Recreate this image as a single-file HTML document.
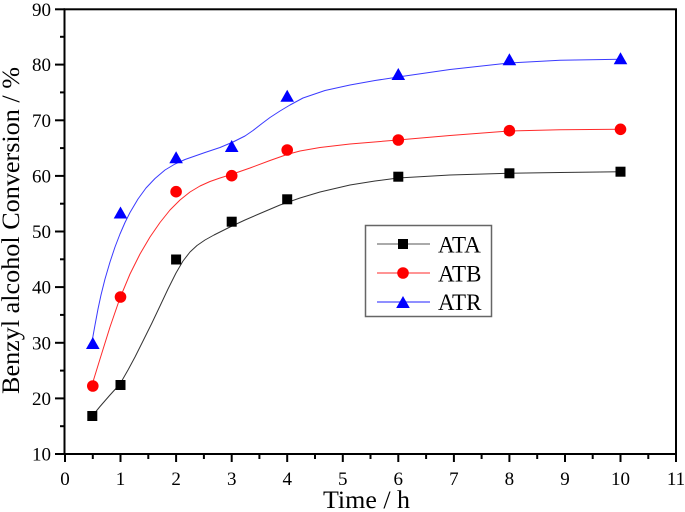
<!DOCTYPE html>
<html>
<head>
<meta charset="utf-8">
<style>
html,body{margin:0;padding:0;background:#fff;}
svg{display:block;}
svg text{font-family:"Liberation Serif","Times New Roman",serif;fill:#000;}
</style>
</head>
<body>
<svg width="685" height="512" viewBox="0 0 685 512" xmlns="http://www.w3.org/2000/svg" font-family="Liberation Serif, Times New Roman, serif">
<rect x="0" y="0" width="685" height="512" fill="#fff"/>

<!-- curves -->
<polyline fill="none" stroke="#333" stroke-width="1" stroke-linejoin="round"
points="92.3,416 100,406.5 110,395 120,384 128,370 135,357 143,341 151.7,323.5 160,306 168,289 176,273 183,261 190,252 197,245.5 205,240 214,235 223,230.5 231,226.5 245,220 260,213.5 280,205 300,198 320,192 350,185 375,181 398,178 450,175 509,173.3 560,172.5 620,171.7"/>
<polyline fill="none" stroke="#ff2a2a" stroke-width="1" stroke-linejoin="round"
points="92.3,384 100,359 110,327 120,298 130,274 140,254 150,237 160,222.5 170,210 180,200 190,192 200,186 210,181.5 220,178 231.3,174.5 250,168 270,160.5 287,154.5 300,151 320,147.5 350,144 398,140 450,135.5 509,131 560,129.8 620,129.3"/>
<polyline fill="none" stroke="#3a3aff" stroke-width="1" stroke-linejoin="round"
points="92.3,340 95,325 98,309 101,295 105,279 110,262 115,247 120,234 125,222.5 130,212.5 138,199 146,188 155,178.5 165,170 175,164 185,159.5 195,156 205,152.5 220,147.5 233,142 245,136 253,130.5 262,123.5 270,117.5 280,111 290,105 303,98 325,90.5 350,85 375,80.5 398,77 450,69.5 509,63 560,60.3 620,59.3"/>

<!-- ATA markers -->
<g fill="#000">
<rect x="87.3" y="411" width="10" height="10"/>
<rect x="115.5" y="380" width="10" height="10"/>
<rect x="171.1" y="254.5" width="10" height="10"/>
<rect x="226.7" y="216.7" width="10" height="10"/>
<rect x="282.2" y="194.3" width="10" height="10"/>
<rect x="393.3" y="171.7" width="10" height="10"/>
<rect x="504.4" y="168.3" width="10" height="10"/>
<rect x="615.5" y="166.7" width="10" height="10"/>
</g>
<!-- ATB markers -->
<g fill="#ff0000">
<circle cx="92.8" cy="386" r="5.8"/>
<circle cx="120.5" cy="297" r="5.8"/>
<circle cx="176.1" cy="191.7" r="5.8"/>
<circle cx="231.7" cy="175.7" r="5.8"/>
<circle cx="287.2" cy="150" r="5.8"/>
<circle cx="398.3" cy="140" r="5.8"/>
<circle cx="509.4" cy="130.7" r="5.8"/>
<circle cx="620.5" cy="129.3" r="5.8"/>
</g>
<!-- ATR markers -->
<g fill="#0000ff">
<polygon points="92.8,337 86,349 99.6,349"/>
<polygon points="120.5,206.5 113.7,218.5 127.3,218.5"/>
<polygon points="176.1,151.3 169.3,163.3 182.9,163.3"/>
<polygon points="231.7,140 224.9,152 238.5,152"/>
<polygon points="287.2,89.7 280.4,101.7 294,101.7"/>
<polygon points="398.3,68 391.5,80 405.1,80"/>
<polygon points="509.4,53.3 502.6,65.3 516.2,65.3"/>
<polygon points="620.5,52.3 613.7,64.3 627.3,64.3"/>
</g>

<!-- frame -->
<rect x="64.5" y="9.3" width="611.5" height="444.7" fill="none" stroke="#000" stroke-width="2"/>

<!-- x ticks -->
<g stroke="#000" stroke-width="2">
<line x1="65" y1="454" x2="65" y2="462"/>
<line x1="120.5" y1="454" x2="120.5" y2="462"/>
<line x1="176.1" y1="454" x2="176.1" y2="462"/>
<line x1="231.7" y1="454" x2="231.7" y2="462"/>
<line x1="287.2" y1="454" x2="287.2" y2="462"/>
<line x1="342.8" y1="454" x2="342.8" y2="462"/>
<line x1="398.3" y1="454" x2="398.3" y2="462"/>
<line x1="453.9" y1="454" x2="453.9" y2="462"/>
<line x1="509.4" y1="454" x2="509.4" y2="462"/>
<line x1="565" y1="454" x2="565" y2="462"/>
<line x1="620.5" y1="454" x2="620.5" y2="462"/>
<line x1="676" y1="454" x2="676" y2="462"/>
<line x1="92.8" y1="454" x2="92.8" y2="459"/>
<line x1="148.3" y1="454" x2="148.3" y2="459"/>
<line x1="203.9" y1="454" x2="203.9" y2="459"/>
<line x1="259.4" y1="454" x2="259.4" y2="459"/>
<line x1="315" y1="454" x2="315" y2="459"/>
<line x1="370.5" y1="454" x2="370.5" y2="459"/>
<line x1="426.1" y1="454" x2="426.1" y2="459"/>
<line x1="481.6" y1="454" x2="481.6" y2="459"/>
<line x1="537.2" y1="454" x2="537.2" y2="459"/>
<line x1="592.7" y1="454" x2="592.7" y2="459"/>
<line x1="648.3" y1="454" x2="648.3" y2="459"/>
</g>
<!-- y ticks -->
<g stroke="#000" stroke-width="2">
<line x1="55" y1="454" x2="65" y2="454"/>
<line x1="55" y1="398.4" x2="65" y2="398.4"/>
<line x1="55" y1="342.8" x2="65" y2="342.8"/>
<line x1="55" y1="287.1" x2="65" y2="287.1"/>
<line x1="55" y1="231.5" x2="65" y2="231.5"/>
<line x1="55" y1="175.9" x2="65" y2="175.9"/>
<line x1="55" y1="120.3" x2="65" y2="120.3"/>
<line x1="55" y1="64.6" x2="65" y2="64.6"/>
<line x1="55" y1="9.3" x2="65" y2="9.3"/>
<line x1="60" y1="426.2" x2="65" y2="426.2"/>
<line x1="60" y1="370.6" x2="65" y2="370.6"/>
<line x1="60" y1="314.9" x2="65" y2="314.9"/>
<line x1="60" y1="259.3" x2="65" y2="259.3"/>
<line x1="60" y1="203.7" x2="65" y2="203.7"/>
<line x1="60" y1="148.1" x2="65" y2="148.1"/>
<line x1="60" y1="92.4" x2="65" y2="92.4"/>
<line x1="60" y1="36.8" x2="65" y2="36.8"/>
</g>

<!-- x labels -->
<g font-size="19" text-anchor="middle" font-family="Liberation Serif, serif">
<text x="65" y="485">0</text>
<text x="120.5" y="485">1</text>
<text x="176.1" y="485">2</text>
<text x="231.7" y="485">3</text>
<text x="287.2" y="485">4</text>
<text x="342.8" y="485">5</text>
<text x="398.3" y="485">6</text>
<text x="453.9" y="485">7</text>
<text x="509.4" y="485">8</text>
<text x="565" y="485">9</text>
<text x="620.5" y="485">10</text>
<text x="676" y="485">11</text>
</g>
<!-- y labels -->
<g font-size="19" text-anchor="end" font-family="Liberation Serif, serif">
<text x="51" y="460.6">10</text>
<text x="51" y="405">20</text>
<text x="51" y="349.4">30</text>
<text x="51" y="293.7">40</text>
<text x="51" y="238.1">50</text>
<text x="51" y="182.5">60</text>
<text x="51" y="126.9">70</text>
<text x="51" y="71.2">80</text>
<text x="51" y="15.9">90</text>
</g>

<!-- axis titles -->
<text x="366.5" y="508" font-size="25" font-family="Liberation Serif, serif" text-anchor="middle" textLength="87" lengthAdjust="spacingAndGlyphs">Time / h</text>
<text transform="translate(19,230.5) rotate(-90)" font-size="25" font-family="Liberation Serif, serif" text-anchor="middle" textLength="327" lengthAdjust="spacingAndGlyphs">Benzyl alcohol Conversion / %</text>

<!-- legend -->
<rect x="365.5" y="225.5" width="126" height="91" fill="#fff" stroke="#666" stroke-width="1.5"/>
<line x1="377" y1="244" x2="430" y2="244" stroke="#555" stroke-width="1"/>
<rect x="398" y="239" width="10" height="10" fill="#000"/>
<line x1="377" y1="273" x2="430" y2="273" stroke="#ff2a2a" stroke-width="1"/>
<circle cx="403" cy="273" r="5.8" fill="#ff0000"/>
<line x1="377" y1="302" x2="430" y2="302" stroke="#6a6aff" stroke-width="1.5"/>
<polygon points="403,296 396.2,308 409.8,308" fill="#0000ff"/>
<g font-size="23" font-family="Liberation Serif, serif">
<text x="438" y="252.3">ATA</text>
<text x="438" y="281.5">ATB</text>
<text x="438" y="310">ATR</text>
</g>
</svg>
</body>
</html>
